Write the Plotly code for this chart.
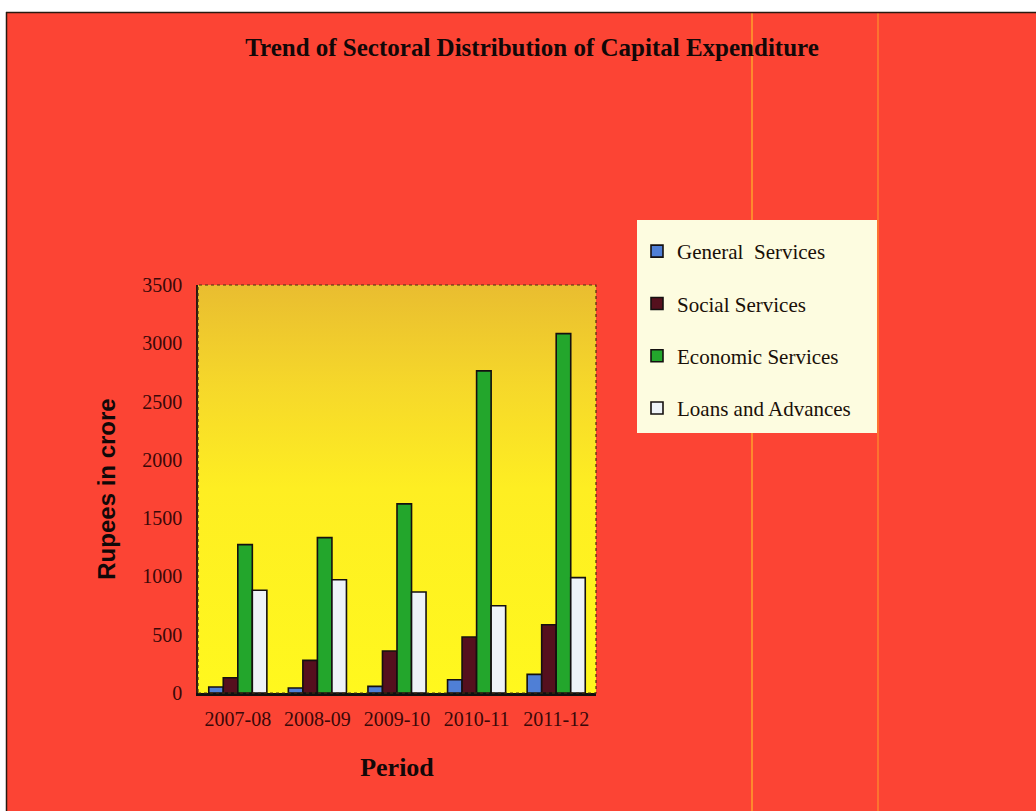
import base64
import plotly.graph_objects as go

# ---- data (Rupees in crore) ----
periods = ["2007-08", "2008-09", "2009-10", "2010-11", "2011-12"]
general_services = [52, 43, 57, 114, 160]
social_services = [131, 280, 360, 480, 586]
economic_services = [1273, 1333, 1622, 2763, 3083]
loans_and_advances = [881, 972, 867, 749, 990]

series_names = ["General  Services", "Social Services", "Economic Services", "Loans and Advances"]
series_values = [general_services, social_services, economic_services, loans_and_advances]
series_colors = ["#4F7FD6", "#55101E", "#23A62C", "#EEF3F8"]

# ---- page geometry (pixels) ----
W, H = 1036, 811
PL, PR, PT, PB = 198, 596, 285, 693  # plot area edges


def px(xp):
    return (xp - PL) / (PR - PL)


def py(yp):
    return (PB - yp) / (PB - PT)


fig = go.Figure()
for name, vals, col in zip(series_names, series_values, series_colors):
    fig.add_trace(go.Bar(
        x=periods, y=vals, name=name, legendgroup=name,
        marker=dict(color=col, line=dict(color="#141010", width=1.6)),
    ))

# golden-to-yellow gradient behind the bars
svg = (
    '<svg xmlns="http://www.w3.org/2000/svg" width="100" height="100" viewBox="0 0 100 100" '
    'preserveAspectRatio="none"><defs><linearGradient id="g" x1="0" y1="0" x2="0" y2="1">'
    '<stop offset="0" stop-color="#E9BD30"/><stop offset="0.25" stop-color="#F6D82A"/>'
    '<stop offset="0.5" stop-color="#FEEE22"/><stop offset="1" stop-color="#FFF81E"/>'
    '</linearGradient></defs><rect width="100" height="100" fill="url(#g)"/></svg>'
)
src = "data:image/svg+xml;base64," + base64.b64encode(svg.encode()).decode()

shapes = [
    # white scan margins on top and left
    dict(type="rect", xref="paper", yref="paper", x0=px(-2), x1=px(W + 2), y0=py(12), y1=py(-2),
         fillcolor="white", line=dict(width=0), layer="below"),
    dict(type="rect", xref="paper", yref="paper", x0=px(-2), x1=px(6), y0=py(H + 2), y1=py(-2),
         fillcolor="white", line=dict(width=0), layer="below"),
    dict(type="line", xref="paper", yref="paper", x0=px(6), x1=px(W), y0=py(12.5), y1=py(12.5),
         line=dict(color="#2a1a10", width=1.5)),
    dict(type="line", xref="paper", yref="paper", x0=px(6.5), x1=px(6.5), y0=py(12), y1=py(H),
         line=dict(color="#2a1a10", width=1.5)),
    # faint vertical streaks
    dict(type="line", xref="paper", yref="paper", x0=px(752), x1=px(752), y0=py(13), y1=py(H),
         line=dict(color="rgba(255,200,40,0.7)", width=1.5), layer="below"),
    dict(type="line", xref="paper", yref="paper", x0=px(878), x1=px(878), y0=py(13), y1=py(H),
         line=dict(color="rgba(255,200,40,0.6)", width=1.2), layer="below"),
    # legend panel
    dict(type="rect", xref="paper", yref="paper", x0=px(637), x1=px(877), y0=py(433), y1=py(220),
         fillcolor="#FDFCE0", line=dict(width=0), layer="below"),
    # dotted frame around plot area
    dict(type="rect", xref="paper", yref="paper", x0=0, x1=1, y0=0, y1=1,
         line=dict(color="#4a3010", width=1.2, dash="dot")),
]

fig.update_layout(
    width=W, height=H,
    margin=dict(l=PL, r=W - PR, t=PT, b=H - PB, pad=0),
    paper_bgcolor="#FC4434",
    plot_bgcolor="rgba(0,0,0,0)",
    barmode="group", bargap=0.27, bargroupgap=0,
    images=[dict(source=src, xref="paper", yref="paper", x=0, y=1, sizex=1, sizey=1,
                 xanchor="left", yanchor="top", sizing="stretch", layer="below")],
    shapes=shapes,
    title=dict(text="<b>Trend of Sectoral Distribution of Capital Expenditure</b>",
               x=532 / W, y=1 - 47 / H, xref="container", yref="container",
               xanchor="center", yanchor="middle",
               font=dict(family="Liberation Serif", size=25, color="#120808")),
    xaxis=dict(
        type="category",
        showline=True, linecolor="#101010", linewidth=2.5, showgrid=False,
        ticks="", ticklabelstandoff=6,
        tickfont=dict(family="Liberation Serif", size=20, color="#3a0808"),
        title=dict(text="<b>Period</b>", standoff=30,
                   font=dict(family="Liberation Serif", size=26, color="#120808")),
    ),
    yaxis=dict(
        range=[0, 3500], dtick=500, showgrid=False, zeroline=False,
        showline=True, linecolor="#2a1a10", linewidth=1.5,
        ticks="", ticklabelstandoff=10,
        tickfont=dict(family="Liberation Serif", size=20, color="#3a0808"),
        title=dict(text="<b>Rupees in crore</b>", standoff=20,
                   font=dict(family="Liberation Sans", size=24, color="#100808")),
    ),
    legend=dict(
        x=px(637), y=py(231), xanchor="left", yanchor="top",
        bgcolor="rgba(0,0,0,0)", borderwidth=0,
        tracegroupgap=22,
        font=dict(family="Liberation Serif", size=21, color="#1a1008"),
    ),
)

fig.write_html("out.html")
